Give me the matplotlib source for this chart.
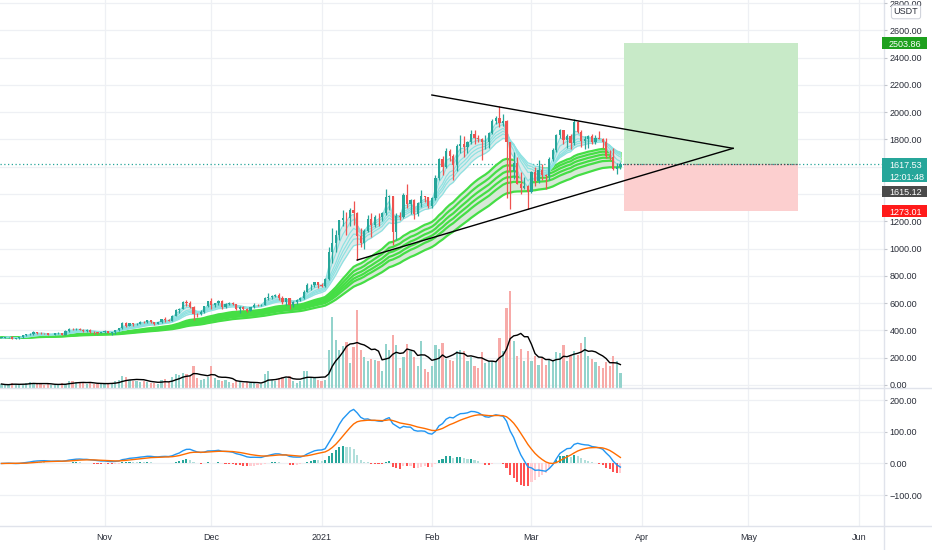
import numpy as np
import pandas as pd
import matplotlib
matplotlib.use("Agg")
import matplotlib.pyplot as plt
import matplotlib.transforms as mtransforms
from matplotlib.patches import Rectangle
from matplotlib.lines import Line2D

plt.rcParams['font.family'] = ['Liberation Sans', 'DejaVu Sans']

# ---------------- data (ETH/USDT daily) ----------------
first_date = "2020-10-03"
first_open = 346.0

closes = [
    # Oct
    346.5, 352.5, 353.3, 340.3, 341.6, 350.9, 365.5, 370.9, 375.0, 387.6, 381.2, 379.5, 378.0, 366.0, 368.3,
    377.8, 379.3, 368.9, 392.7, 413.0, 409.5, 412.0, 406.0, 393.5, 403.2, 388.4, 386.5, 383.2, 386.6,
    # Nov
    396.4, 383.2, 387.6, 402.1, 415.0, 454.7, 435.7, 453.6, 444.2, 449.7, 463.2, 462.5, 475.7, 461.5, 448.2,
    460.8, 480.6, 479.5, 471.5, 509.1, 549.7, 558.3, 608.9, 603.6, 569.0, 518.5, 517.4, 538.2, 575.8, 614.8,
    # Dec
    587.3, 598.4, 616.7, 569.4, 596.4, 601.6, 591.8, 554.7, 573.8, 559.8, 545.6, 568.6, 590.0, 586.0, 589.4,
    636.2, 642.7, 654.4, 659.1, 638.3, 608.6, 635.4, 583.6, 611.0, 626.4, 635.8, 682.6, 730.9, 731.5, 751.6, 736.4,
    # Jan
    729.0, 774.6, 975.5, 1040.7, 1100.2, 1208.8, 1225.7, 1224.9, 1281.1, 1262.2, 1090.1, 1043.4, 1130.0, 1217.7,
    1171.3, 1233.5, 1230.2, 1257.6, 1377.4, 1382.2, 1121.6, 1236.4, 1230.9, 1392.5, 1324.4, 1357.1, 1253.2,
    1332.5, 1382.3, 1376.1, 1314.9,
    # Feb
    1369.0, 1515.2, 1660.0, 1594.8, 1718.0, 1677.1, 1614.2, 1750.0, 1769.1, 1743.7, 1784.2, 1843.4, 1814.2,
    1805.0, 1779.4, 1781.0, 1848.1, 1937.5, 1960.2, 1919.5, 1935.6, 1781.0, 1570.0, 1626.6, 1475.7, 1446.0,
    1459.9, 1416.5,
    # Mar
    1564.0, 1492.6, 1575.8, 1541.9, 1533.3, 1654.7, 1723.1, 1834.7, 1868.5, 1799.2, 1826.2, 1772.1, 1924.5,
    1854.2, 1791.1, 1806.2, 1823.0, 1782.4, 1812.9, 1806.0, 1783.6, 1681.0, 1670.0, 1585.0, 1595.0, 1617.53,
]

highs = [
    350, 353.5, 355, 356, 343, 352, 368, 377, 378, 393, 392, 385, 383, 381, 370, 379, 385, 381, 400, 416, 416,
    415, 418, 410, 408, 407, 394, 387, 392,
    400, 399, 390, 406, 420, 461, 461, 458, 457, 453, 468, 470, 478, 476, 463, 464, 485, 498, 483, 512, 557,
    567, 615, 623, 613, 580, 530, 548, 580, 618,
    637, 603, 622, 623, 599, 608, 606, 594, 577, 576, 561, 572, 598, 593, 594, 642, 676, 659, 665, 678, 650,
    640, 637, 614, 628, 646, 697, 748, 738, 754, 758,
    749, 787, 1011, 1150, 1133, 1210, 1280, 1265, 1300, 1348, 1265, 1150, 1145, 1248, 1260, 1250, 1260, 1268,
    1440, 1396, 1384, 1260, 1267, 1404, 1476, 1366, 1367, 1340, 1430, 1385, 1378,
    1378, 1540, 1665, 1680, 1740, 1730, 1690, 1765, 1830, 1826, 1790, 1870, 1872, 1830, 1812, 1830, 1858,
    1950, 1975, 2042, 1985, 1945, 1782, 1710, 1672, 1559, 1525, 1468,
    1570, 1600, 1650, 1623, 1547, 1669, 1735, 1840, 1875, 1872, 1840, 1842, 1947, 1932, 1867, 1825, 1831,
    1839, 1830, 1860, 1814, 1812, 1724, 1738, 1624, 1638,
]

lows = [
    344, 345, 348, 335, 336.5, 337, 348, 362, 368, 370, 375, 372, 371, 363, 363, 366, 373, 364, 365, 390, 403,
    406, 402, 385, 391, 380, 377, 372, 379,
    384, 379, 370, 376, 397, 413, 425, 430, 432, 440, 446, 455, 458, 455, 443, 445, 458, 464, 467, 470, 507,
    525, 557, 580, 562, 480, 496, 510, 530, 575,
    560, 570, 586, 560, 563, 585, 585, 548, 530, 551, 532, 543, 565, 579, 578, 584, 623, 630, 643, 620, 595,
    586, 560, 569, 596, 614, 628, 680, 700, 717, 714,
    715, 716, 771, 895, 974, 1064, 1168, 1102, 1164, 1170, 915, 1010, 1000, 1124, 1087, 1160, 1166, 1200,
    1250, 1286, 1030, 1060, 1210, 1223, 1300, 1254, 1220, 1237, 1303, 1342, 1300,
    1300, 1356, 1500, 1540, 1590, 1640, 1500, 1570, 1700, 1670, 1700, 1770, 1770, 1782, 1650, 1730, 1740,
    1840, 1911, 1890, 1900, 1371, 1293, 1513, 1470, 1400, 1434, 1293,
    1410, 1460, 1481, 1505, 1440, 1500, 1641, 1707, 1813, 1770, 1735, 1729, 1756, 1850, 1746, 1730, 1740,
    1766, 1768, 1800, 1739, 1666, 1650, 1576, 1546, 1580,
]

# volume (relative units)
volumes = [
    4, 3, 3, 5, 4, 3, 4, 5, 6, 5, 4, 4, 3, 4, 3, 3, 4, 5, 4, 7, 7, 6, 5, 5, 4, 5, 4, 4, 5,
    4, 5, 5, 7, 8, 12, 11, 8, 7, 7, 6, 7, 6, 5, 5, 4, 8, 9, 6, 11, 14, 13, 15, 14, 12, 22, 10, 8, 9, 11,
    22, 10, 8, 7, 8, 6, 5, 7, 6, 5, 6, 5, 5, 4, 4, 14, 17, 8, 7, 10, 11, 10, 12, 7, 5, 7,
    17, 17, 10, 10, 8, 7, 8,
    38, 71, 48, 38, 42, 46, 25, 41, 78, 38, 31, 27, 29, 28, 27, 17, 44, 38, 53, 43,
    20, 31, 44, 37, 31, 22, 47, 19, 16, 22, 43, 39, 45, 29, 28, 27, 37, 38, 37, 27,
    31, 22, 20, 36, 25, 27, 27, 27, 50, 37, 80, 97, 47, 32, 39, 27, 37, 27, 32, 23,
    30, 23, 28, 27, 36, 35, 43, 27, 32, 37, 33, 45, 51, 32, 29, 26, 22, 20, 26, 22,
    32, 27, 15,
]

price_ticks = [0, 200, 400, 600, 800, 1000, 1200, 1400, 1600, 1800, 2000, 2200, 2400, 2600, 2800]
hidden_price_ticks = [1400, 1600]   # covered by the price-scale labels in the chart
macd_ticks = [-100, 0, 100, 200]
month_ticks = ["2020-11-01", "2020-12-01", "2021-01-01", "2021-02-01", "2021-03-01",
               "2021-04-01", "2021-05-01", "2021-06-01"]
month_labels = ["Nov", "Dec", "2021", "Feb", "Mar", "Apr", "May", "Jun"]

short_periods = [3, 5, 8, 10, 12, 15]
long_periods = [30, 35, 40, 45, 50, 60]
vol_ma_len = 7
macd_fast, macd_slow, macd_signal = 12, 26, 9

# drawings
tri_upper_dates = ["2021-02-01T00:00", "2021-04-26T16:00"]
tri_upper_prices = [2126, 1735]
tri_lower_dates = ["2021-01-11T00:00", "2021-04-26T16:00"]
tri_lower_prices = [916, 1735]
pos_start, pos_end = "2021-03-27", "2021-05-15"
entry_price, target_price, stop_price = 1617.53, 2503.86, 1273.01
last_price = 1617.53
countdown = "12:01:48"
extra_label = 1615.12
quote = "USDT"

# ---------------- derived ----------------
ref = pd.Timestamp("2020-10-01")
def dnum(d):
    return np.asarray((pd.to_datetime(d, format='ISO8601') - ref) / pd.Timedelta(days=1), dtype=float)

dates = pd.date_range(first_date, periods=len(closes), freq="D")
x = np.asarray((dates - ref) / pd.Timedelta(days=1), dtype=float)
c = np.array(closes, dtype=float)
o = np.concatenate([[first_open], c[:-1]])
h = np.array(highs, dtype=float)
l = np.array(lows, dtype=float)
v = np.array(volumes, dtype=float)
up = c >= o

cs = pd.Series(c)
short_emas = [cs.ewm(span=p, adjust=False).mean().values for p in short_periods]
long_emas = [cs.ewm(span=p, adjust=False).mean().values for p in long_periods]
vol_ma = pd.Series(v).rolling(vol_ma_len, min_periods=1).mean().values
macd = (cs.ewm(span=macd_fast, adjust=False).mean() - cs.ewm(span=macd_slow, adjust=False).mean())
sig = macd.ewm(span=macd_signal, adjust=False).mean()
hist = (macd - sig).values
prev = np.concatenate([[0], hist[:-1]])
hist_col = np.where(hist >= 0,
                    np.where(hist > prev, '#26a69a', '#b2dfdb'),
                    np.where(hist > prev, '#ffcdd2', '#ff5252'))

# ---------------- layout ----------------
W, H = 932, 550
PR = 884
MAIN_BOT = 388
MACD_BOT = 526
fig = plt.figure(figsize=(W / 100, H / 100), dpi=100)
fig.patch.set_facecolor('white')

ax = fig.add_axes([0, 1 - MAIN_BOT / H, PR / W, MAIN_BOT / H])
axv = ax.twinx()
axm = fig.add_axes([0, 1 - MACD_BOT / H, PR / W, (MACD_BOT - MAIN_BOT) / H], sharex=ax)
ax.set_zorder(2)
axv.set_zorder(1)
ax.patch.set_visible(False)
axv.patch.set_visible(False)

XLIM = (1.6, 250.1)
YLIM = (-22, 2822.6)
MLIM = (-198, 239)
ax.set_xlim(*XLIM)
ax.set_ylim(*YLIM)
axv.set_ylim(0, 388)
axm.set_ylim(*MLIM)

grid_c = '#eef0f4'
month_x = dnum(month_ticks)
gtrans = mtransforms.blended_transform_factory(axv.transAxes, ax.transData)
for p in price_ticks:
    axv.plot([0, 1], [p, p], color=grid_c, lw=0.9, transform=gtrans, zorder=0)
for mx in month_x:
    axv.axvline(mx, color=grid_c, lw=0.9, zorder=0)
    axm.axvline(mx, color=grid_c, lw=0.9, zorder=0)
for p in macd_ticks:
    axm.axhline(p, color=grid_c, lw=0.9, zorder=0)

# volume
vcol = np.where(up, '#93d3cc', '#f7aaa8')
axv.bar(x, v, width=0.62, color=vcol, lw=0, zorder=1)
axv.plot(x, vol_ma, color='black', lw=1.0, zorder=2)

# position box
xs, xe = dnum([pos_start, pos_end])
ax.add_patch(Rectangle((xs, entry_price), xe - xs, target_price - entry_price,
                       facecolor='#c8eac8', edgecolor='none', zorder=1))
ax.add_patch(Rectangle((xs, stop_price), xe - xs, entry_price - stop_price,
                       facecolor='#fccfcf', edgecolor='none', zorder=1))
ax.axhline(last_price, color='#26a69a', lw=0.9, ls=(0, (1, 2)), zorder=1.5)
ax.hlines(entry_price, xs, xe, color='#4a4a4a', lw=0.9, ls=(0, (1, 1.5)), zorder=1.6)

# EMA ribbons
for a, b in zip(long_emas[:-1], long_emas[1:]):
    ax.fill_between(x, a, b, color='#d8e8d8', lw=0, zorder=2)
for e in long_emas:
    ax.plot(x, e, color='#45de45', lw=1.6, zorder=2.2)
for a, b in zip(short_emas[:-1], short_emas[1:]):
    ax.fill_between(x, a, b, color='#dcebeb', lw=0, zorder=2.4)
for e in short_emas:
    ax.plot(x, e, color='#8ee2e2', lw=0.9, zorder=2.5)

# candles
ccol = np.where(up, '#26a69a', '#ef5350')
ax.vlines(x, l, h, colors=ccol, lw=0.9, zorder=4)
ax.bar(x, np.maximum(np.abs(c - o), 3), bottom=np.minimum(o, c), width=0.62,
       color=ccol, lw=0, zorder=5)

# triangle
ax.plot(dnum(tri_upper_dates), tri_upper_prices, color='black', lw=1.0, zorder=6)
ax.plot(dnum(tri_lower_dates), tri_lower_prices, color='black', lw=1.0, zorder=6)

# MACD
axm.bar(x, hist, width=0.6, color=hist_col, lw=0, zorder=2)
axm.plot(x, macd.values, color='#2196f3', lw=1.0, zorder=3)
axm.plot(x, sig.values, color='#ff6d00', lw=1.0, zorder=3)

# axes styling
lab_c = '#2a2e39'
for a in (ax, axv, axm):
    for s in a.spines.values():
        s.set_visible(False)
ax.yaxis.tick_right()
ax.set_yticks(price_ticks)
ax.set_yticklabels([("" if p in hidden_price_ticks else f"{p:.2f}") for p in price_ticks])
ax.tick_params(axis='y', length=2.5, width=0.8, color='#c3c6cd', labelcolor=lab_c,
               labelsize=6.5, pad=1.5)
ax.tick_params(axis='x', bottom=False, labelbottom=False)
axv.set_yticks([])
axv.tick_params(right=False, labelright=False)
axm.yaxis.tick_right()
axm.set_yticks(macd_ticks)
axm.set_yticklabels([(f"{p:.2f}" if p >= 0 else "\u2212" + f"{-p:.2f}") for p in macd_ticks])
axm.tick_params(axis='y', length=2.5, width=0.8, color='#c3c6cd', labelcolor=lab_c,
                labelsize=6.5, pad=1.5)
axm.set_xticks(month_x)
axm.set_xticklabels(month_labels)
axm.tick_params(axis='x', length=0, labelsize=6.5, labelcolor=lab_c, pad=5)

# pane separators
sep_c = '#e0e3eb'
fig.add_artist(Line2D([PR / W, PR / W], [0, 1], transform=fig.transFigure, color=sep_c, lw=1))
fig.add_artist(Line2D([0, 1], [1 - MAIN_BOT / H] * 2, transform=fig.transFigure, color=sep_c, lw=1))
fig.add_artist(Line2D([0, 1], [1 - MACD_BOT / H] * 2, transform=fig.transFigure, color=sep_c, lw=1))

# price-scale labels
def price_py(p):
    return (YLIM[1] - p) / (YLIM[1] - YLIM[0]) * MAIN_BOT

def scale_label(py_top, py_bot, texts, bg):
    fig.add_artist(Rectangle((882 / W, 1 - py_bot / H), (927 - 882) / W, (py_bot - py_top) / H,
                             transform=fig.transFigure, facecolor=bg, edgecolor='none', zorder=10))
    n = len(texts)
    step = (py_bot - py_top) / n
    for i, t in enumerate(texts):
        cy = py_top + step * (i + 0.5)
        fig.text(889 / W, 1 - cy / H, t, color='white', fontsize=6.5, ha='left', va='center_baseline',
                 zorder=11)

pt = price_py(target_price)
scale_label(pt - 6, pt + 6, [f"{target_price:.2f}"], '#1ea01e')
pl = price_py(last_price)
scale_label(pl - 6, pl + 18, [f"{last_price:.2f}", countdown], '#26a69a')
scale_label(pl + 21.5, pl + 33, [f"{extra_label:.2f}"], '#4a4a4a')
ps = price_py(stop_price)
scale_label(ps - 6, ps + 6, [f"{stop_price:.2f}"], '#ff1a1a')

fig.text(906 / W, 1 - 12 / H, quote, color=lab_c, fontsize=6.5, ha='center', va='center',
         bbox=dict(boxstyle='round,pad=0.25', facecolor='white', edgecolor='#d1d4dc', lw=0.8),
         zorder=11)

fig.savefig("out.png", dpi=100, facecolor='white')
